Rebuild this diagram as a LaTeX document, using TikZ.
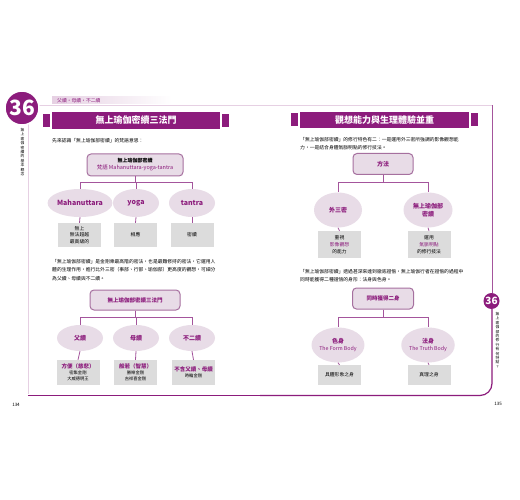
\documentclass[tikz,border=0pt]{standalone}
\usepackage{fontspec}
\setmainfont{Noto Sans CJK TC}
\usetikzlibrary{shapes.geometric, positioning}
\definecolor{bookpurple}{HTML}{8C1C7C}
\definecolor{linkpurple}{HTML}{A4559C}
\definecolor{lavender}{HTML}{E8DCE7}
\definecolor{rootline}{HTML}{A6709F}
\definecolor{boxgrey}{HTML}{DCDCDC}
\definecolor{paleline}{HTML}{E6D0E3}

\tikzset{
  rootbox/.style={draw=rootline, line width=1pt, fill=lavender, rounded corners=4pt, align=center, inner sep=1pt,
    font=\fontsize{5}{7}\selectfont},
  branch/.style={ellipse, fill=lavender, text=bookpurple, align=center, inner sep=0pt,
    font=\bfseries\fontsize{6}{7.5}\selectfont},
  leafbox/.style={fill=boxgrey, align=center, inner sep=0pt, font=\fontsize{4.8}{6.8}\selectfont},
  link/.style={draw=linkpurple, line width=0.8pt},
  titlebar/.style={fill=bookpurple, text=white, inner sep=0pt, font=\bfseries\fontsize{9}{9}\selectfont},
  endsquare/.style={fill=bookpurple, minimum width=6.5pt, minimum height=13pt, inner sep=0pt},
  bodytext/.style={anchor=north west, align=left, inner sep=0pt, font=\fontsize{4.8}{8.5}\selectfont},
  sidetext/.style={align=center, inner sep=0pt, font=\fontsize{3.8}{4.4}\selectfont},
}

\begin{document}
\begin{tikzpicture}[x=1pt, y=-1pt]
  \useasboundingbox (0,0) rectangle (520,500);
  \fill[white] (0,0) rectangle (520,500);

  % Left page frame
  \draw[paleline, line width=0.8pt] (28,124) -- (28,394);
  \draw[bookpurple, line width=1.2pt] (28,395.5) -- (260,395.5);
  \shade[left color=paleline, right color=white] (52,96.5) rectangle (172,104);
  \draw[paleline, line width=0.6pt] (36,105) -- (260,105);
  \node[circle, fill=bookpurple, draw=white, line width=1.5pt, minimum size=34pt, inner sep=0pt, text=white,
    font=\bfseries\fontsize{21}{21}\selectfont] (chapL) at (22,108) {36};
  \node[sidetext, anchor=north] (sideL) at (22.5,128) {無\\上\\瑜\\伽\\密\\續\\的\\基\\本\\概\\念};
  \node[anchor=west, inner sep=0pt, text=bookpurple, font=\fontsize{4.8}{5}\selectfont] (tagL) at (57,100.5) {父續‧母續‧不二續};

  % Left title bar
  \node[titlebar, minimum width=168pt, minimum height=17pt] (titleL) at (136,120.5) {無上瑜伽密續三法門};
  \node[endsquare, left=2pt of titleL] (sqL1) {};
  \node[endsquare, right=2pt of titleL] (sqL2) {};

  \node[bodytext] (paraL1) at (52,138) {先來認識「無上瑜伽部密續」的梵語意思：};

  % Sanskrit tree
  \node[rootbox, minimum width=96pt, minimum height=22pt] (rootA) at (135,165)
    {{\bfseries 無上瑜伽部密續}\\{\color{bookpurple}\fontsize{5.5}{7}\selectfont 梵語 Mahanuttara-yoga-tantra}};
  \node[branch, minimum width=50pt, minimum height=28pt, font=\bfseries\fontsize{7}{8}\selectfont] (wordA) at (80,203) {Mahanuttara};
  \node[branch, minimum width=46pt, minimum height=28pt, font=\bfseries\fontsize{7}{8}\selectfont] (wordB) at (136,203) {yoga};
  \node[branch, minimum width=46pt, minimum height=28pt, font=\bfseries\fontsize{7}{8}\selectfont] (wordC) at (192,203) {tantra};
  \node[leafbox, minimum width=43pt, minimum height=24pt] (meanA) at (79.5,235) {無上\\無法超越\\最高級的};
  \node[leafbox, minimum width=43pt, minimum height=24pt] (meanB) at (135.5,235) {相應};
  \node[leafbox, minimum width=43pt, minimum height=24pt] (meanC) at (192,235) {密續};
  \foreach \w in {wordA, wordB, wordC}
    \draw[link] (rootA.south) -- ++(0,6) -| (\w.north);
  \draw[link] (wordA.south) -- (meanA.north);
  \draw[link] (wordB.south) -- (meanB.north);
  \draw[link] (wordC.south) -- (meanC.north);

  \node[bodytext] (paraL2) at (52,259)
    {「無上瑜伽部密續」是金剛乘最高階的密法，也是最難修持的密法，它運用人\\
     體的生理作用，進行比外三密（事部、行部、瑜伽部）更高度的觀想，可細分\\
     為父續、母續與不二續。};

  % Three methods tree
  \node[rootbox, minimum width=90pt, minimum height=20pt, text=bookpurple, font=\bfseries\fontsize{5.5}{7}\selectfont] (rootB) at (135,300) {無上瑜伽部密續三法門};
  \node[branch, minimum width=46pt, minimum height=26pt] (lineA) at (80,338) {父續};
  \node[branch, minimum width=46pt, minimum height=26pt] (lineB) at (136,338) {母續};
  \node[branch, minimum width=46pt, minimum height=26pt] (lineC) at (192,338) {不二續};
  \node[leafbox, minimum width=43pt, minimum height=25pt, font=\fontsize{4.3}{6}\selectfont] (deityA) at (78,372.5)
    {{\color{bookpurple}\bfseries\fontsize{5.5}{7}\selectfont 方便（慈悲）}\\密集金剛\\大威德明王};
  \node[leafbox, minimum width=43pt, minimum height=25pt, font=\fontsize{4.3}{6}\selectfont] (deityB) at (135.5,372.5)
    {{\color{bookpurple}\bfseries\fontsize{5.5}{7}\selectfont 般若（智慧）}\\勝樂金剛\\吉祥喜金剛};
  \node[leafbox, minimum width=43pt, minimum height=25pt, font=\fontsize{4.3}{6}\selectfont] (deityC) at (193.5,372.5)
    {{\color{bookpurple}\bfseries\fontsize{5.5}{7}\selectfont 不含父續、母續}\\時輪金剛};
  \foreach \w in {lineA, lineB, lineC}
    \draw[link] (rootB.south) -- ++(0,7) -| (\w.north);
  \draw[link] (lineA.south) -- (deityA.north);
  \draw[link] (lineB.south) -- (deityB.north);
  \draw[link] (lineC.south) -- (deityC.north);

  \node[font=\fontsize{4.5}{5}\selectfont] (pageL) at (16,405) {134};

  % Right page frame
  \draw[paleline, line width=0.8pt] (260,105.5) -- (492,105.5);
  \draw[linkpurple, line width=0.8pt] (492,105.5) -- (492,293);
  \draw[bookpurple, line width=1.2pt, rounded corners=12pt] (492,309) -- (492,395.5) -- (260,395.5);
  \node[circle, fill=bookpurple, minimum size=16pt, inner sep=0pt, text=white,
    font=\bfseries\fontsize{10}{10}\selectfont] (chapR) at (491.5,301) {36};
  \node[sidetext, anchor=north] (sideR) at (497.5,312) {無\\上\\瑜\\伽\\部\\的\\修\\行\\有\\何\\特\\點\\？};
  \node[font=\fontsize{4.5}{5}\selectfont] (pageR) at (498,404) {135};

  % Right title bar
  \node[titlebar, minimum width=169pt, minimum height=16pt] (titleR) at (384.5,120) {觀想能力與生理體驗並重};
  \node[endsquare, left=2pt of titleR] (sqR1) {};
  \node[endsquare, right=2pt of titleR] (sqR2) {};

  \node[bodytext] (paraR1) at (300,137)
    {「無上瑜伽部密續」的修行特色有二：一是運用外三密所強調的影像觀想能\\
     力，一是結合身體氣脈明點的修行技法。};

  % Method tree
  \node[rootbox, minimum width=60pt, minimum height=21pt, text=bookpurple, font=\bfseries\fontsize{6}{7}\selectfont] (rootC) at (383,164) {方法};
  \node[branch, minimum width=48pt, minimum height=35pt] (wayA) at (338,210) {外三密};
  \node[branch, minimum width=49pt, minimum height=35pt] (wayB) at (428,210) {無上瑜伽部\\密續};
  \node[leafbox, minimum width=43pt, minimum height=27pt] (skillA) at (339.5,244.5)
    {重視\\{\color{bookpurple}影像觀想}\\的能力};
  \node[leafbox, minimum width=43pt, minimum height=27pt] (skillB) at (429,244.5)
    {運用\\{\color{bookpurple}氣脈明點}\\的修行技法};
  \foreach \w in {wayA, wayB}
    \draw[link] (rootC.south) -- ++(0,7.5) -| (\w.north);
  \draw[link] (wayA.south) -- (skillA.north);
  \draw[link] (wayB.south) -- (skillB.north);

  \node[bodytext] (paraR2) at (300,269)
    {「無上瑜伽部密續」透過甚深來達到徹底證悟，無上瑜伽行者在證悟的過程中\\
     同時能獲得二種證悟的身形：法身與色身。};

  % Two bodies tree
  \node[rootbox, minimum width=61pt, minimum height=21pt, text=bookpurple, font=\bfseries\fontsize{5.5}{7}\selectfont] (rootD) at (383,298.5) {同時獲得二身};
  \node[branch, minimum width=50pt, minimum height=35pt] (bodyA) at (338,345)
    {色身\\{\mdseries\fontsize{5.3}{7}\selectfont The Form Body}};
  \node[branch, minimum width=50pt, minimum height=35pt] (bodyB) at (428,345)
    {法身\\{\mdseries\fontsize{5.3}{7}\selectfont The Truth Body}};
  \node[leafbox, minimum width=43pt, minimum height=20pt] (formA) at (339.5,375) {具體形象之身};
  \node[leafbox, minimum width=43pt, minimum height=20pt] (formB) at (429,375) {真理之身};
  \foreach \w in {bodyA, bodyB}
    \draw[link] (rootD.south) -- ++(0,8) -| (\w.north);
  \draw[link] (bodyA.south) -- (formA.north);
  \draw[link] (bodyB.south) -- (formB.north);
\end{tikzpicture}
\end{document}
